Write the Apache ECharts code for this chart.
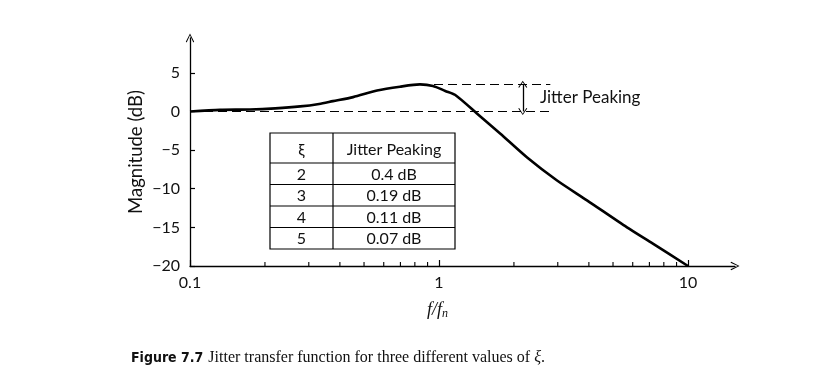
<!DOCTYPE html>
<html><head><meta charset="utf-8">
<script src="https://cdn.jsdelivr.net/npm/echarts@6/dist/echarts.min.js"></script>
<style>html,body{margin:0;padding:0;background:#fff}#c{width:820px;height:388px}</style>
</head><body><div id="c"></div>
<script>
// Data
const freq = [0.1, 0.132, 0.174, 0.22, 0.277, 0.33, 0.375, 0.452, 0.564, 0.697, 0.839, 0.946, 1.06, 1.159, 1.42, 1.76, 2.26, 2.98, 3.93, 5.69, 7.23, 10];
const magnitude = [0, 0.2, 0.25, 0.4, 0.65, 0.97, 1.33, 1.85, 2.7, 3.2, 3.5, 3.3, 2.65, 2.15, -0.26, -2.85, -5.96, -8.94, -11.5, -15.0, -17.1, -20];
const minorTicks = [0.2, 0.3, 0.4, 0.5, 0.6, 0.7, 0.8, 0.9, 2, 3, 4, 5, 6, 7, 8, 9];
const xTickLabels = {0.1: '0.1', 1: '1', 10: '10'};
const peakFreq = 0.839, peakDb = 3.5, guideEnd = 2.8, arrowFreq = 2.17;
const tableHeader = ['ξ', 'Jitter Peaking'];
const tableXi = ['2', '3', '4', '5'];
const tablePeaking = ['0.4 dB', '0.19 dB', '0.11 dB', '0.07 dB'];

const FONT = 'Lato, "Open Sans", sans-serif';
const chart = echarts.init(document.getElementById('c'), null, {renderer: 'canvas'});
const arrowPath = 'path://M0,10 L5,0 L10,10 L9,10.8 L5,2 L1,10.8 Z';

// table graphic
const tX = 270, tY = 133, c1 = 63, c2 = 122, hH = 30, rH = 21.5;
const tbl = [];
const totalH = hH + rH * tableXi.length;
tbl.push({type:'rect', shape:{x:tX, y:tY, width:c1+c2, height:totalH}, style:{fill:'#fff', stroke:'#000', lineWidth:1.2}});
tbl.push({type:'line', shape:{x1:tX+c1, y1:tY, x2:tX+c1, y2:tY+totalH}, style:{stroke:'#000', lineWidth:1.2}});
for (let i = 0; i < tableXi.length; i++) {
  const y = tY + hH + rH * i;
  tbl.push({type:'line', shape:{x1:tX, y1:y, x2:tX+c1+c2, y2:y}, style:{stroke:'#000', lineWidth:1.2}});
}
const cellText = (txt, cx, cy) => ({type:'text', x:cx, y:cy, style:{text:txt, font:'16px ' + FONT, fill:'#111', align:'center', verticalAlign:'middle'}});
tbl.push(cellText(tableHeader[0], tX + c1/2, tY + hH/2 + 2));
tbl.push(cellText(tableHeader[1], tX + c1 + c2/2, tY + hH/2 + 2));
tableXi.forEach((v, i) => {
  const cy = tY + hH + rH * i + rH/2 + 1;
  tbl.push(cellText(v, tX + c1/2, cy));
  tbl.push(cellText(tablePeaking[i], tX + c1 + c2/2, cy));
});

const option = {
  animation: false,
  backgroundColor: '#fff',
  grid: {left: 190, right: 85, top: 38, bottom: 122},
  title: {
    left: 131, top: 349, padding: 0,
    text: '{b|Figure 7.7} {t|Jitter transfer function for three different values of }{x|ξ}{t|.}',
    textStyle: {fontWeight: 'normal', rich: {
      b: {fontFamily: '"Liberation Sans Narrow", "DejaVu Sans Condensed", sans-serif', fontWeight: 'bold', fontSize: 14, color: '#111'},
      t: {fontFamily: '"Liberation Serif", serif', fontWeight: 'normal', fontSize: 16, color: '#111'},
      x: {fontFamily: '"Liberation Serif", serif', fontWeight: 'normal', fontStyle: 'italic', fontSize: 16, color: '#111'}
    }}
  },
  xAxis: {
    type: 'log', logBase: 10, min: 0.1, max: 15.45,
    axisLine: {show: true, onZero: false, lineStyle: {color: '#000', width: 1.3}, symbol: ['none', arrowPath], symbolSize: [9, 9]},
    axisTick: {show: true, inside: true, length: 6, lineStyle: {color: '#000', width: 1.2}},
    splitLine: {show: false},
    axisLabel: {showMaxLabel: false, margin: 9, fontFamily: FONT, fontSize: 16, color: '#111',
      formatter: v => xTickLabels[+v.toPrecision(3)] || ''}
  },
  yAxis: {
    type: 'value', min: -20, max: 9.5, interval: 5,
    name: 'Magnitude (dB)', nameLocation: 'middle', nameRotate: 90, nameGap: 44, nameMoveOverlap: false,
    nameTextStyle: {fontFamily: FONT, fontSize: 18.5, color: '#111'},
    axisLine: {show: true, lineStyle: {color: '#000', width: 1.3}, symbol: ['none', arrowPath], symbolSize: [9, 9]},
    axisTick: {show: true, inside: true, length: 5, lineStyle: {color: '#000', width: 1.2}},
    splitLine: {show: false},
    axisLabel: {showMaxLabel: false, margin: 10, fontFamily: FONT, fontSize: 16, color: '#111',
      formatter: v => v < 0 ? '\u2212' + Math.abs(v) : String(v)}
  },
  graphic: [
    {type: 'group', children: tbl, z: 10},
    {type: 'text', left: 540, top: 89, style: {text: 'Jitter Peaking', font: '17px ' + FONT, fill: '#111'}},
    {type: 'text', left: 427, top: 301, style: {
      text: '{i|f/f}{s|n}', rich: {
        i: {fontFamily: '"Liberation Serif", serif', fontStyle: 'italic', fontSize: 18, fill: '#111'},
        s: {fontFamily: '"Liberation Serif", serif', fontStyle: 'italic', fontSize: 12, fill: '#111', padding: [7, 0, 0, 0]}
      }}}
  ],
  series: [
    {
      type: 'line', data: freq.map((f, i) => [f, magnitude[i]]), showSymbol: false, smooth: 0.25,
      lineStyle: {color: '#000', width: 2.6}, z: 5,
      markLine: {
        silent: true, symbol: ['none', 'none'], label: {show: false},
        lineStyle: {color: '#000', type: [9, 5], width: 1.2},
        data: [
          [{coord: [0.1, 0]}, {coord: [guideEnd, 0]}],
          [{coord: [peakFreq, peakDb]}, {coord: [guideEnd, peakDb]}]
        ]
      }
    },
    {
      type: 'line', data: [], markLine: {
        silent: true, symbol: [arrowPath, arrowPath], symbolSize: [9, 7], label: {show: false},
        lineStyle: {color: '#000', type: 'solid', width: 1.3},
        data: [[{coord: [arrowFreq, peakDb]}, {coord: [arrowFreq, 0]}]]
      }
    },
    {
      type: 'custom', data: minorTicks.map(v => [v, -20]), silent: true,
      renderItem: (params, api) => {
        const p = api.coord([api.value(0), api.value(1)]);
        return {type: 'line', shape: {x1: p[0], y1: p[1], x2: p[0], y2: p[1] - 4}, style: {stroke: '#000', lineWidth: 1.1}};
      }
    }
  ]
};
chart.setOption(option);
</script></body></html>
